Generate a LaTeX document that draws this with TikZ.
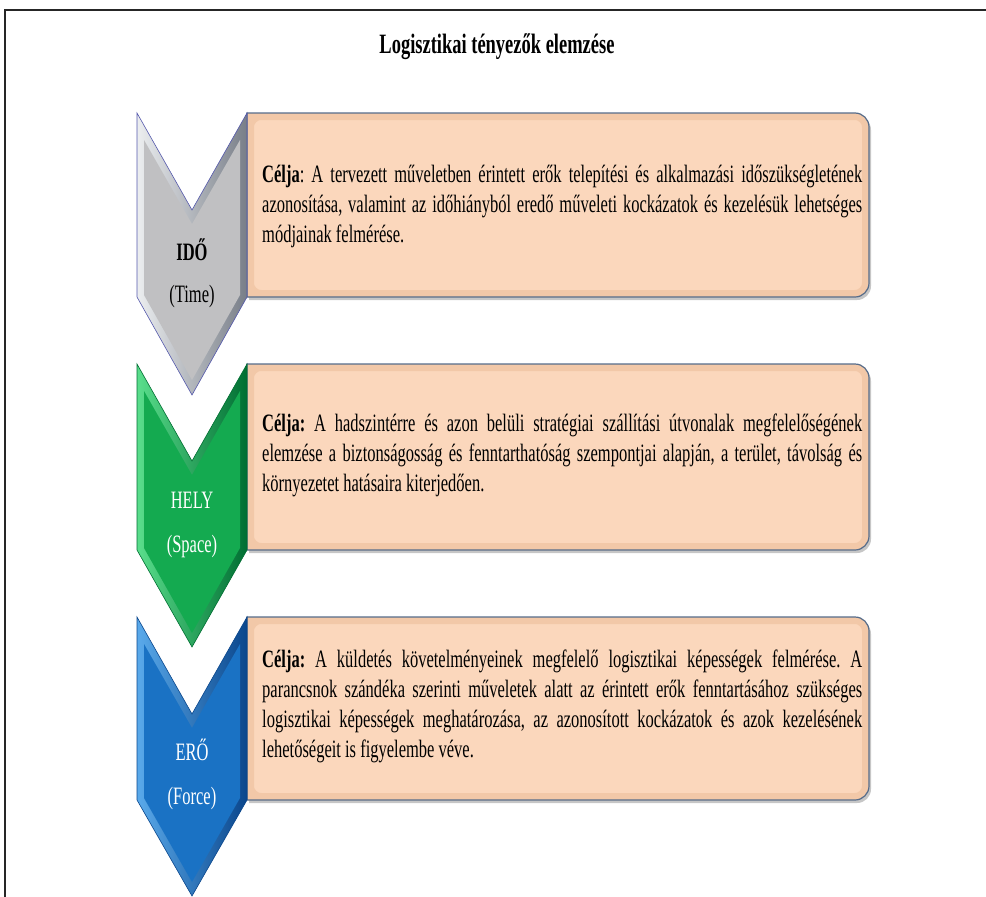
\documentclass[tikz,border=0pt]{standalone}
\usepackage{fontspec}
\setmainfont{Liberation Serif}[FakeStretch=0.66]
\usetikzlibrary{shadows}
\frenchspacing
\hyphenpenalty=10000
\exhyphenpenalty=10000

\definecolor{peach}{RGB}{251,215,188}
\definecolor{peachrim}{RGB}{242,200,168}
\definecolor{boxline}{RGB}{86,108,138}
\definecolor{grayface}{RGB}{192,192,194}
\definecolor{graylight}{RGB}{236,238,240}
\definecolor{graydark}{RGB}{120,126,136}
\definecolor{greenface}{RGB}{20,170,80}
\definecolor{greenlight}{RGB}{90,222,140}
\definecolor{greendark}{RGB}{0,110,50}
\definecolor{blueface}{RGB}{26,114,196}
\definecolor{bluelight}{RGB}{90,170,235}
\definecolor{bluedark}{RGB}{10,70,140}

\begin{document}
\begin{tikzpicture}[x=1pt,y=-1pt,
  every node/.style={font=\fontsize{25}{30}\selectfont},
  panel/.style={fill=peach,draw=boxline,line width=1.2pt,
    drop shadow={shadow xshift=2pt,shadow yshift=-3pt,opacity=0.45},
    path picture={\draw[peachrim,line width=14pt,rounded corners=14pt]
      (path picture bounding box.north west) rectangle (path picture bounding box.south east);}},
  aim/.style={text width=600pt,align=justify,inner sep=0pt,anchor=west},
  chevgray/.style={left color=graylight,right color=graydark,draw=graydark!70!blue,line width=0.6pt},
  chevgreen/.style={left color=greenlight,right color=greendark,draw=greendark,line width=0.6pt},
  chevblue/.style={left color=bluelight,right color=bluedark,draw=bluedark,line width=0.6pt},
  label/.style={inner sep=0pt}]
  \useasboundingbox (0,0) rectangle (986,897);
  % frame
  \draw[line width=2pt,black!85] (5,897) -- (5,10) -- (986,10);
  \node[font=\bfseries\fontsize{28}{30}\selectfont] (title) at (497,47) {Logisztikai tényezők elemzése};

  % panels
  \draw[panel] (247,205) -- (247,113) -- (560,113) [rounded corners=14pt] -- (869,113) -- (869,297) -- (560,297) [sharp corners] -- (247,297) -- cycle;
  \draw[panel] (247,455) -- (247,364) -- (560,364) [rounded corners=14pt] -- (869,364) -- (869,550) -- (560,550) [sharp corners] -- (247,550) -- cycle;
  \draw[panel] (247,705) -- (247,617) -- (560,617) [rounded corners=14pt] -- (869,617) -- (869,800) -- (560,800) [sharp corners] -- (247,800) -- cycle;

  \node[aim] (aimtime) at (262,206) {\textbf{Célja}: A tervezett műveletben érintett erők telepítési és alkalmazási időszükségletének azonosítása, valamint az időhiányból eredő műveleti kockázatok és kezelésük lehetséges módjainak felmérése.};
  \node[aim] (aimspace) at (262,455) {\textbf{Célja:} A hadszintérre és azon belüli stratégiai szállítási útvonalak megfelelőségének elemzése a biztonságosság és fenntarthatóság szempontjai alapján, a terület, távolság és környezetet hatásaira kiterjedően.};
  \node[aim] (aimforce) at (262,706) {\textbf{Célja:} A küldetés követelményeinek megfelelő logisztikai képességek felmérése. A parancsnok szándéka szerinti műveletek alatt az érintett erők fenntartásához szükséges logisztikai képességek meghatározása, az azonosított kockázatok és azok kezelésének lehetőségeit is figyelembe véve.};

  % chevrons
  \draw[chevgray] (137,113) -- (192,210) -- (247,113) -- (247,297) -- (192,395) -- (137,297) -- cycle;
  \fill[grayface] (144,140) -- (192,224) -- (240,140) -- (240,295) -- (192,380) -- (144,295) -- cycle;
  \draw[chevgreen] (137,364) -- (192,461) -- (247,364) -- (247,550) -- (192,647) -- (137,550) -- cycle;
  \fill[greenface] (144,391) -- (192,475) -- (240,391) -- (240,548) -- (192,633) -- (144,548) -- cycle;
  \draw[chevblue] (137,617) -- (192,714) -- (247,617) -- (247,800) -- (192,896) -- (137,800) -- cycle;
  \fill[blueface] (144,644) -- (192,728) -- (240,644) -- (240,798) -- (192,882) -- (144,798) -- cycle;

  \node[label] (time) at (192,250) {\textbf{IDŐ}};
  \node[label] (timeen) at (192,296) {(Time)};
  \node[label,white] (space) at (192,500) {HELY};
  \node[label,white] (spaceen) at (192,546) {(Space)};
  \node[label,white] (force) at (192,750) {ERŐ};
  \node[label,white] (forceen) at (192,798) {(Force)};
\end{tikzpicture}
\end{document}
